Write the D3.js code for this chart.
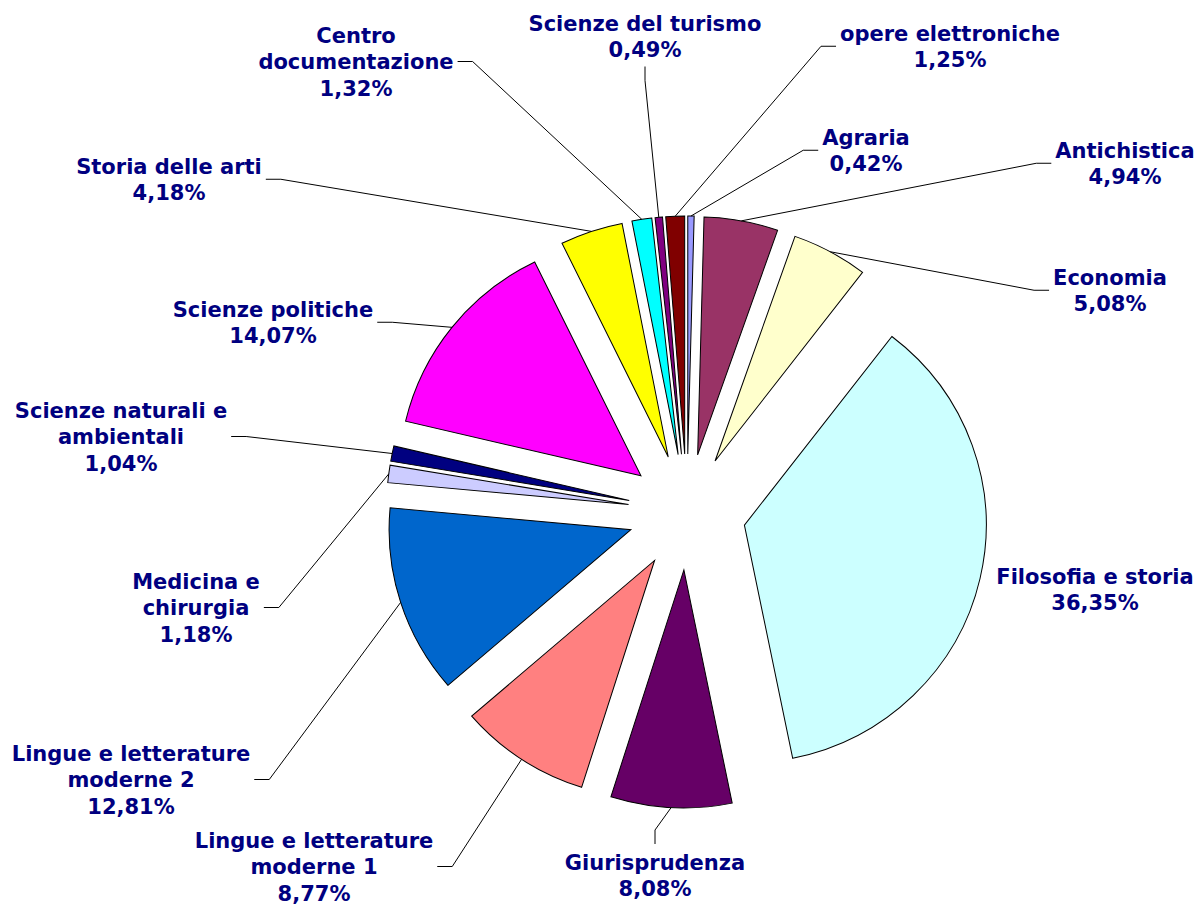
<!DOCTYPE html>
<html>
<head>
<meta charset="utf-8">
<script src="https://cdn.jsdelivr.net/npm/d3@7"></script>
<style>
  body { margin: 0; background: #fff; }
  .lbl { font-family: "DejaVu Sans", Verdana, sans-serif; font-weight: bold; font-size: 21px; fill: #000080; }
</style>
</head>
<body>
<div id="chart"></div>
<script>
// ---- data ----
var categories = ["Agraria", "Antichistica", "Economia", "Filosofia e storia", "Giurisprudenza",
  "Lingue e letterature\nmoderne 1", "Lingue e letterature\nmoderne 2", "Medicina e\nchirurgia",
  "Scienze naturali e\nambientali", "Scienze politiche", "Storia delle arti", "Centro\ndocumentazione",
  "Scienze del turismo", "opere elettroniche"];
var shares = [0.42, 4.94, 5.08, 36.35, 8.08, 8.77, 12.81, 1.18, 1.04, 14.07, 4.18, 1.32, 0.49, 1.25];
var colors = ["#9999FF", "#993366", "#FFFFCC", "#CCFFFF", "#660066", "#FF8080", "#0066CC",
  "#CCCCFF", "#000080", "#FF00FF", "#FFFF00", "#00FFFF", "#800080", "#800000"];

// label layout: centre x, centre y of first line, side where the leader line leaves
var labelPos = [
  [866, 137, "left"], [1125, 150, "left"], [1110, 277, "left"], [1095, 576, null],
  [655, 862, "top"], [314, 840, "right"], [131, 753, "right"], [196, 581, "right"],
  [121, 410, "right"], [273, 309, "right"], [169, 166, "right"], [356, 35, "right"],
  [645, 23, "bottom"], [950, 33, "left"]
];

var W = 1198, H = 905;
var cx = 687, cy = 512, radius = 238, explode = 58, lineH = 26.5;
var sx = 1.016; // the original pie is a touch wider than tall

var svg = d3.select("#chart").append("svg")
  .attr("width", W).attr("height", H);

svg.append("rect").attr("width", W).attr("height", H).attr("fill", "#fff");

var pie = d3.pie().sort(null).value(function(d) { return d; });
var arcs = pie(shares);
var arc = d3.arc().innerRadius(0).outerRadius(radius);

function midAngle(d) { return (d.startAngle + d.endAngle) / 2; }

// slices, each pushed out along its middle angle
svg.append("g")
  .attr("transform", "translate(" + cx + "," + cy + ") scale(" + sx + ",1)")
  .selectAll("path")
  .data(arcs)
  .enter().append("path")
  .attr("d", arc)
  .attr("transform", function(d) {
    var a = midAngle(d);
    return "translate(" + (explode * Math.sin(a)) + "," + (-explode * Math.cos(a)) + ")";
  })
  .attr("fill", function(d, i) { return colors[i]; })
  .attr("stroke", "#000")
  .attr("stroke-width", 1);

var fmt = d3.format(".2f");
var leaders = svg.append("g");
var labels = svg.append("g");

arcs.forEach(function(d, i) {
  var lines = categories[i].split("\n");
  lines.push(fmt(shares[i]).replace(".", ",") + "%");
  var lx = labelPos[i][0], ly = labelPos[i][1], side = labelPos[i][2];

  var maxW = 0;
  lines.forEach(function(t, k) {
    var txt = labels.append("text")
      .attr("class", "lbl")
      .attr("x", lx)
      .attr("y", ly + k * lineH)
      .attr("dy", "0.36em")
      .attr("text-anchor", "middle")
      .text(t);
    maxW = Math.max(maxW, txt.node().getComputedTextLength());
  });

  if (!side) return;

  var midY = ly + (lines.length - 1) * lineH / 2;
  var top = ly - 10, bottom = ly + (lines.length - 1) * lineH + 9;
  var p1, p2;
  if (side == "left") { p1 = [lx - maxW / 2 - 4, midY]; p2 = [p1[0] - 15, midY]; }
  if (side == "right") { p1 = [lx + maxW / 2 + 4, midY]; p2 = [p1[0] + 15, midY]; }
  if (side == "top") { p1 = [lx, top - 8]; p2 = [lx, top - 22]; }
  if (side == "bottom") { p1 = [lx, bottom + 8]; p2 = [lx, bottom + 22]; }

  // leader ends at the middle of the slice's outer arc
  var a = midAngle(d);
  var rr = explode + radius;
  var end = [cx + sx * rr * Math.sin(a), cy - rr * Math.cos(a)];

  leaders.append("path")
    .attr("d", d3.line()([p1, p2, end]))
    .attr("fill", "none")
    .attr("stroke", "#000")
    .attr("stroke-width", 1);
});
</script>
</body>
</html>
